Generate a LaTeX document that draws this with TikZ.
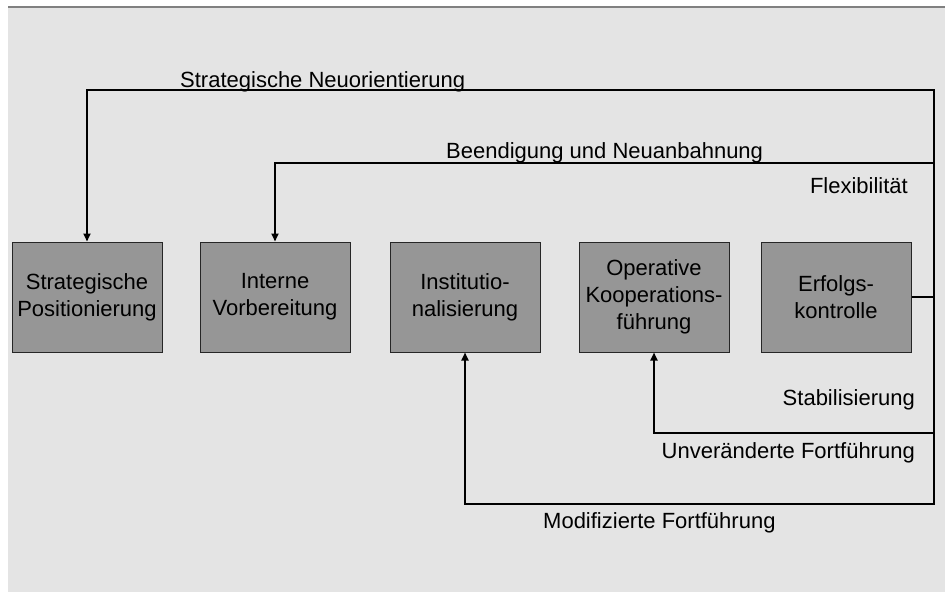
\documentclass[tikz,border=0pt]{standalone}
\usepackage{fontspec}
\setmainfont{Liberation Sans}
\usetikzlibrary{arrows.meta}
\definecolor{bgcol}{HTML}{E4E4E4}
\definecolor{boxcol}{HTML}{969696}
\definecolor{rimcol}{HTML}{808080}
\begin{document}
\begin{tikzpicture}[x=1pt,y=-1pt,
    stage/.style={draw=black!85,fill=boxcol,line width=1pt,minimum width=150pt,minimum height=110pt,align=center,inner sep=0pt,font=\fontsize{22}{27}\selectfont},
    lbl/.style={inner sep=0pt,font=\fontsize{22}{27}\selectfont},
    link/.style={line width=1.9pt,-{Triangle[width=7pt,length=8pt]}}]
        \useasboundingbox (0,0) rectangle (945,592);
        \fill[bgcol] (8,7) rectangle (945,592);
        \draw[rimcol,line width=1.5pt] (8,7) -- (945,7);
        \draw (87,297) node[stage](s1){Strategische\\Positionierung};
        \draw (275,297) node[stage](s2){Interne\\Vorbereitung};
        \draw (465,297) node[stage](s3){Institutio-\\nalisierung};
        \draw (654,297) node[stage](s4){Operative\\Kooperations-\\führung};
        \draw (836,297) node[stage](s5){Erfolgs-\\kontrolle};
        \coordinate (k1) at (934,90);
        \coordinate (k2) at (934,163);
        \coordinate (k5) at (934,297);
        \coordinate (k4) at (934,433);
        \coordinate (k6) at (934,504);
        \draw[link,{Triangle[width=7pt,length=8pt]}-{Triangle[width=7pt,length=8pt]}] (s3.south) |- (k6) -- (k1) -| (s1.north);
        \draw[link] (k2) -| (s2.north);
        \draw[link] (k4) -| (s4.south);
        \draw[line width=1.9pt] (s5.east) -- (k5);
        \draw (180,87) node[lbl,anchor=base west](t1){Strategische Neuorientierung};
        \draw (446,158) node[lbl,anchor=base west](t2){Beendigung und Neuanbahnung};
        \draw (908,193) node[lbl,anchor=base east](t3){Flexibilität};
        \draw (915,405) node[lbl,anchor=base east](t4){Stabilisierung};
        \draw (915,458) node[lbl,anchor=base east](t5){Unveränderte Fortführung};
        \draw (543,528) node[lbl,anchor=base west](t6){Modifizierte Fortführung};
      \end{tikzpicture}
\end{document}
